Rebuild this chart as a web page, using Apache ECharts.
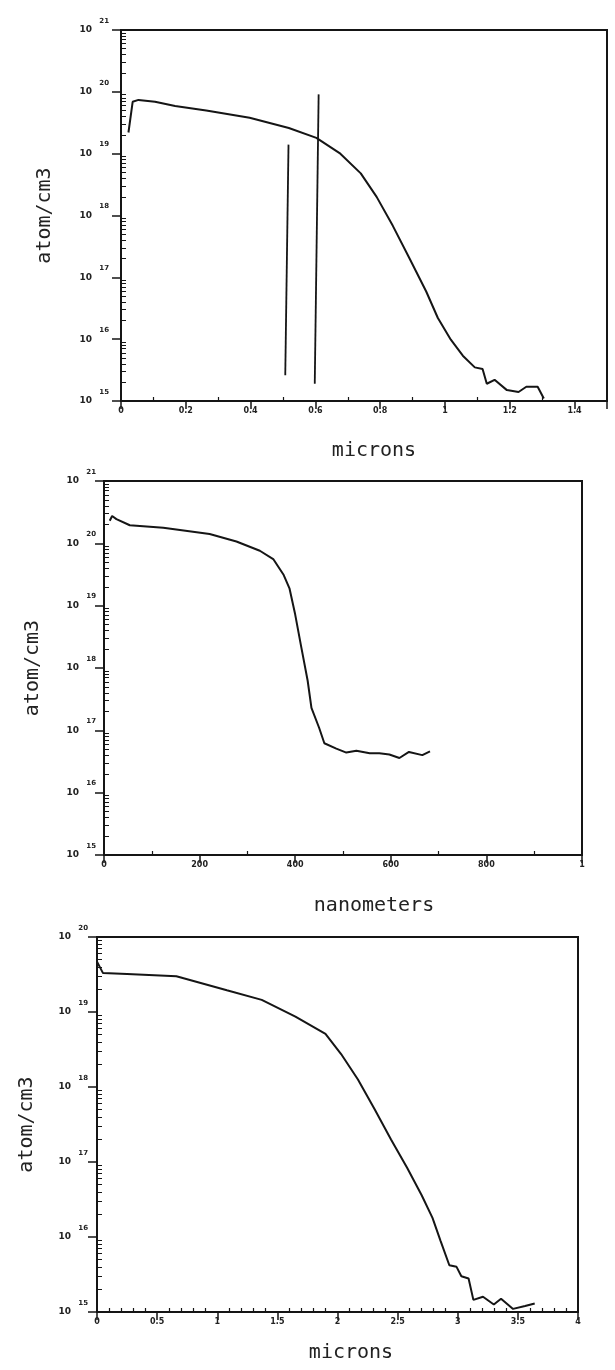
<!DOCTYPE html>
<html><head><meta charset="utf-8">
<script src="https://cdn.jsdelivr.net/npm/echarts@6/dist/echarts.min.js"></script>
<style>html,body{margin:0;padding:0;background:#fff}#c{width:615px;height:1370px}</style>
</head><body><div id="c"></div>
<script>
// ---- Panel 1 (microns) ----
const p1Depth = [0.023,0.036,0.054,0.105,0.167,0.263,0.397,0.518,0.603,0.677,0.740,0.789,0.839,0.891,0.942,0.978,1.018,1.055,1.092,1.116,1.129,1.153,1.191,1.227,1.251,1.286,1.305];
const p1Conc  = [2.2e19,6.9e19,7.4e19,6.9e19,5.9e19,5.0e19,3.8e19,2.6e19,1.8e19,1.0e19,4.8e18,2.0e18,6.8e17,2.0e17,5.9e16,2.2e16,9.8e15,5.4e15,3.5e15,3.3e15,1.9e15,2.2e15,1.5e15,1.4e15,1.7e15,1.7e15,1.1e15];
const p1MarkADepth = [0.507,0.517];
const p1MarkAConc  = [2.6e15,1.4e19];
const p1MarkBDepth = [0.598,0.610];
const p1MarkBConc  = [1.9e15,9.1e19];
const p1XTickValues = [0,0.2,0.4,0.6,0.8,1,1.2,1.4];
const p1XTickLabels = ['0','0.2','0.4','0.6','0.8','1','1.2','1.4'];

// ---- Panel 2 (nanometers) ----
const p2Depth = [12,17,26,54,124,221,277,326,354,376,388,400,413,426,434,450,461,486,507,528,556,576,597,618,638,666,682];
const p2Conc  = [2.3e20,2.75e20,2.45e20,1.95e20,1.78e20,1.41e20,1.07e20,7.6e19,5.6e19,3.1e19,1.9e19,7.2e18,2.1e18,6.3e17,2.3e17,1.1e17,6.2e16,5.1e16,4.4e16,4.7e16,4.3e16,4.3e16,4.1e16,3.6e16,4.5e16,4.0e16,4.6e16];
const p2XTickValues = [0,200,400,600,800,1000];
const p2XTickLabels = ['0','200','400','600','800','1'];

// ---- Panel 3 (microns) ----
const p3Depth = [0.0,0.05,0.25,0.66,1.08,1.37,1.65,1.90,2.03,2.17,2.31,2.445,2.58,2.70,2.79,2.857,2.93,2.99,3.03,3.09,3.13,3.21,3.30,3.36,3.46,3.56,3.64];
const p3Conc  = [4.7e19,3.3e19,3.2e19,3.0e19,1.95e19,1.45e19,8.7e18,5.1e18,2.75e18,1.26e18,5.0e17,2.0e17,8.3e16,3.6e16,1.8e16,8.9e15,4.2e15,4.0e15,3.0e15,2.8e15,1.45e15,1.6e15,1.26e15,1.5e15,1.1e15,1.2e15,1.3e15];
const p3XTickValues = [0,0.5,1,1.5,2,2.5,3,3.5,4];
const p3XTickLabels = ['0','0.5','1','1.5','2','2.5','3','3.5','4'];

// ---- Y tick labels (decade exponents) ----
const yExpValues = [1e15,1e16,1e17,1e18,1e19,1e20,1e21];
const yExpLabels = ['15','16','17','18','19','20','21'];

const INK = '#151515';
const FONT_MONO = 'DejaVu Sans Mono';

function pairs(xs, ys){ return xs.map((x,i)=>[x, ys[i]]); }
function lookup(vals, labels, v){
  for (let i=0;i<vals.length;i++){ if (Math.abs(vals[i]-v) < 1e-6*Math.max(1,Math.abs(v))) return labels[i]; }
  return '';
}

function yAxis(gi, min, max, nameGap, labelMargin){
  return {
    type:'log', logBase:10, gridIndex:gi, min:min, max:max,
    name:'atom/cm3', nameLocation:'middle', nameGap:nameGap,
    nameTextStyle:{fontFamily:FONT_MONO, fontSize:20, color:'#222'},
    axisLine:{show:true, lineStyle:{color:INK, width:2}},
    axisTick:{show:true, length:9, lineStyle:{color:INK, width:1.5}},
    minorTick:{show:true, splitNumber:9, length:-5, lineStyle:{color:INK, width:1}},
    splitLine:{show:false}, minorSplitLine:{show:false},
    axisLabel:{
      margin:labelMargin, color:'#222', padding:[0,0,9,0],
      formatter:function(v){
        const e = lookup(yExpValues, yExpLabels, v);
        return e ? '{s|' + e + '}\n{b|10}' : '';
      },
      rich:{
        s:{fontFamily:'DejaVu Sans', fontWeight:'bold', fontSize:7, lineHeight:9, color:'#222'},
        b:{fontFamily:'DejaVu Sans', fontWeight:'bold', fontSize:9, lineHeight:9, padding:[0,17,0,0], color:'#222'}
      }
    }
  };
}

function xAxis(gi, min, max, interval, minorSplit, vals, labels, name, nameGap, namePad, showMax){
  return {
    type:'value', gridIndex:gi, min:min, max:max, interval:interval,
    name:name, nameLocation:'middle', nameGap:nameGap,
    nameTextStyle:{fontFamily:FONT_MONO, fontSize:20, color:'#222', padding:namePad},
    axisLine:{show:true, lineStyle:{color:INK, width:2}},
    axisTick:{show:true, length:8, lineStyle:{color:INK, width:1.5}},
    minorTick:{show:true, splitNumber:minorSplit, length:-4, lineStyle:{color:INK, width:1.2}},
    splitLine:{show:false}, minorSplitLine:{show:false},
    axisLabel:{
      margin:6, showMaxLabel:showMax, color:'#222',
      fontFamily:'DejaVu Sans', fontWeight:'bold', fontSize:8,
      formatter:function(v){ return lookup(vals, labels, v); }
    }
  };
}

function lineSeries(xi, yi, data, width){
  return {type:'line', xAxisIndex:xi, yAxisIndex:yi, data:data, showSymbol:false, symbol:'none',
          smooth:false, lineStyle:{color:INK, width:width||2}, silent:true, animation:false};
}

const chart = echarts.init(document.getElementById('c'), null, {renderer:'canvas'});
chart.setOption({
  backgroundColor:'#ffffff',
  animation:false,
  grid:[
    {left:121, top:30, width:486, height:371, show:true, borderColor:INK, borderWidth:2, backgroundColor:'transparent'},
    {left:104, top:481, width:478, height:374, show:true, borderColor:INK, borderWidth:2, backgroundColor:'transparent'},
    {left:97,  top:937, width:481, height:375, show:true, borderColor:INK, borderWidth:2, backgroundColor:'transparent'}
  ],
  xAxis:[
    xAxis(0, 0, 1.5, 0.2, 2, p1XTickValues, p1XTickLabels, 'microns', 40, [0,0,0,20], false),
    xAxis(1, 0, 1000, 200, 2, p2XTickValues, p2XTickLabels, 'nanometers', 41, [0,0,0,62], true),
    xAxis(2, 0, 4, 0.5, 5, p3XTickValues, p3XTickLabels, 'microns', 31, [0,0,0,27], true)
  ],
  yAxis:[
    yAxis(0, 1e15, 1e21, 66, 12),
    yAxis(1, 1e15, 1e21, 61, 8),
    yAxis(2, 1e15, 1e20, 60, 9)
  ],
  series:[
    lineSeries(0, 0, pairs(p1Depth, p1Conc)),
    lineSeries(0, 0, pairs(p1MarkADepth, p1MarkAConc), 1.8),
    lineSeries(0, 0, pairs(p1MarkBDepth, p1MarkBConc), 1.8),
    lineSeries(1, 1, pairs(p2Depth, p2Conc)),
    lineSeries(2, 2, pairs(p3Depth, p3Conc))
  ]
});
</script></body></html>
